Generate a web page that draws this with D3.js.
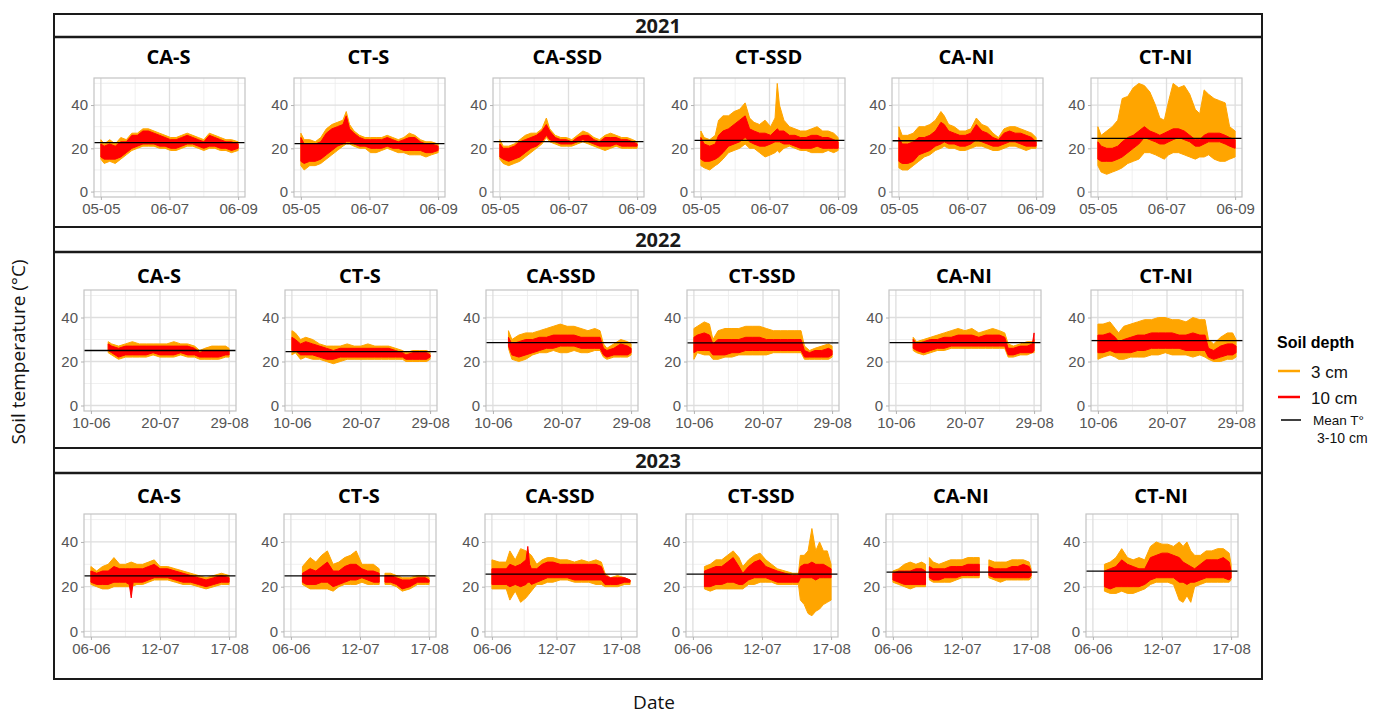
<!DOCTYPE html>
<html>
<head>
<meta charset="utf-8">
<script src="https://cdn.jsdelivr.net/npm/d3@7"></script>
<style>
  body { margin: 0; background: #fff; }
</style>
</head>
<body>
<svg id="chart" width="1394" height="718"></svg>
<script>
// sites (panel order) and years (row order)
const sites = ["CA-S", "CT-S", "CA-SSD", "CT-SSD", "CA-NI", "CT-NI"]
const years = ["2021", "2022", "2023"]

// x ticks, in days from the first date of each year
const tickDays2021 = [0, 62, 124], tickLabels2021 = ["05-05", "06-07", "06-09"]
const tickDays2022 = [0, 40, 80],  tickLabels2022 = ["10-06", "20-07", "29-08"]
const tickDays2023 = [0, 36, 72],  tickLabels2023 = ["06-06", "12-07", "17-08"]

// last day of each panel's date range
const xEnd2021 = [124, 124, 124, 124, 124, 124]
const xEnd2022 = [80, 80, 80, 80, 80, 80]
const xEnd2023 = [72, 72, 77, 72, 72, 72]

// mean temperature 3-10 cm per panel
const mean2021 = [22.6, 22.2, 23.1, 23.7, 23.5, 24.6]
const mean2022 = [25.0, 24.5, 28.6, 28.5, 28.6, 29.5]
const mean2023 = [24.8, 24.8, 25.6, 25.6, 26.5, 27.0]

// soil temperature envelopes: [day, low, high] (null = gap)
const cm3_2021 = [
  [[0,15,24],[3,13,22],[8,14,24],[13,13,22],[18,15,25],[23,17,24],[28,19,27],[33,20,27],[38,21,29],[43,21,29],[48,21,28],[53,20,27],[58,20,26],[63,19,25],[68,19,25],[73,20,26],[78,21,27],[83,21,26],[88,20,25],[93,19,24],[98,20,27],[103,20,26],[108,19,25],[113,19,24],[118,18,24],[124,19,23]],
  [[0,12,27],[3,10,24],[8,12,24],[13,12,23],[18,13,25],[23,15,29],[28,17,31],[33,19,32],[38,21,33],[41,22,37],[44,22,31],[48,21,28],[53,20,26],[58,20,25],[63,18,25],[68,18,25],[73,19,25],[78,20,26],[83,19,25],[88,18,24],[93,18,25],[98,17,27],[103,17,26],[108,17,24],[113,16,23],[118,17,23],[124,18,22]],
  [[0,15,24],[3,13,21],[8,12,21],[13,13,22],[18,14,24],[23,16,26],[28,18,27],[33,20,27],[38,22,29],[42,25,34],[45,23,29],[50,22,26],[55,21,25],[60,21,25],[65,21,24],[70,22,26],[75,23,28],[80,22,27],[85,21,25],[90,20,24],[95,19,26],[100,20,27],[105,21,26],[110,20,25],[115,20,25],[120,20,24],[124,20,23]],
  [[0,12,28],[3,11,25],[8,10,24],[13,12,26],[16,13,33],[20,15,35],[25,18,35],[30,19,37],[35,20,38],[40,22,41],[44,20,34],[48,20,32],[53,18,31],[58,16,33],[63,17,30],[67,18,34],[69,19,50],[71,18,40],[75,20,33],[80,21,30],[85,20,29],[90,19,28],[95,19,28],[100,18,29],[105,18,30],[110,18,28],[115,19,28],[120,18,27],[124,19,25]],
  [[0,11,30],[3,10,26],[8,10,26],[13,12,27],[18,14,30],[23,16,30],[28,17,31],[33,19,33],[38,20,37],[41,21,35],[45,20,31],[50,20,30],[55,19,28],[60,19,28],[65,20,29],[70,21,34],[75,21,31],[80,20,30],[85,19,27],[90,19,25],[95,20,29],[100,21,30],[105,21,30],[110,20,29],[115,19,28],[120,20,27],[124,20,25]],
  [[0,12,30],[3,9,26],[8,8,28],[13,9,30],[18,10,33],[22,11,43],[27,13,44],[32,14,48],[37,15,50],[42,18,49],[47,18,46],[52,17,40],[56,16,34],[60,15,33],[64,17,42],[68,18,50],[73,18,48],[78,17,49],[83,16,45],[88,15,38],[92,16,36],[96,16,47],[100,17,45],[105,15,43],[110,14,42],[115,14,41],[119,15,30],[124,16,28]]
]
const cm10_2021 = [
  [[0,16,22],[3,15,21],[8,15,22],[13,15,21],[18,16,23],[23,18,23],[28,20,26],[33,21,26],[38,22,28],[43,22,28],[48,22,27],[53,21,26],[58,21,25],[63,20,24],[68,20,24],[73,21,25],[78,22,26],[83,22,25],[88,21,24],[93,20,23],[98,21,26],[103,21,25],[108,20,24],[113,20,23],[118,19,23],[124,20,22]],
  [[0,14,25],[3,13,22],[8,14,22],[13,14,22],[18,15,23],[23,17,27],[28,19,29],[33,21,30],[38,22,31],[41,23,35],[44,23,29],[48,22,27],[53,21,25],[58,21,24],[63,20,24],[68,20,24],[73,20,24],[78,21,25],[83,20,24],[88,20,23],[93,19,24],[98,19,25],[103,19,25],[108,19,23],[113,18,22],[118,18,22],[124,19,21]],
  [[0,16,22],[3,15,20],[8,14,20],[13,15,21],[18,16,23],[23,18,24],[28,20,25],[33,21,26],[38,23,28],[42,26,31],[45,24,28],[50,23,25],[55,22,24],[60,22,24],[65,22,23],[70,23,25],[75,24,26],[80,23,26],[85,22,24],[90,21,23],[95,21,25],[100,21,25],[105,22,25],[110,21,24],[115,21,24],[120,21,23],[124,21,22]],
  [[0,15,25],[3,14,22],[8,14,21],[13,15,22],[16,16,26],[20,18,28],[25,21,29],[30,22,31],[35,23,33],[40,25,35],[44,23,29],[48,22,28],[53,21,27],[58,21,27],[63,22,26],[67,23,28],[69,23,29],[71,23,28],[75,22,28],[80,22,26],[85,21,26],[90,20,25],[95,20,25],[100,20,26],[105,21,26],[110,20,25],[115,20,25],[120,20,24],[124,20,23]],
  [[0,14,25],[3,13,22],[8,13,22],[13,14,23],[18,17,25],[23,18,25],[28,19,26],[33,21,28],[38,22,32],[41,23,31],[45,22,28],[50,22,27],[55,21,26],[60,21,26],[65,22,27],[70,24,31],[75,23,28],[80,22,27],[85,21,25],[90,21,24],[95,22,27],[100,23,28],[105,23,27],[110,22,27],[115,21,26],[120,21,25],[124,21,23]],
  [[0,15,23],[3,14,21],[8,14,20],[13,14,20],[18,15,21],[22,16,23],[27,18,25],[32,20,26],[37,22,28],[42,25,30],[47,24,28],[52,23,27],[56,22,26],[60,22,27],[64,23,28],[68,24,29],[73,25,29],[78,24,28],[83,23,26],[88,21,24],[92,21,24],[96,22,26],[100,23,27],[105,23,27],[110,23,27],[115,22,26],[119,21,25],[124,20,24]]
]

const cm3_2022 = [
  [[10,24,29],[12,23,28],[16,21,27],[20,22,28],[24,22,29],[28,22,28],[32,22,28],[36,23,28],[40,22,28],[44,22,28],[48,22,29],[52,23,28],[56,22,28],[60,22,27],[63,21,25],[66,21,26],[70,21,27],[74,21,27],[78,22,27],[80,22,26]],
  [[0,23,34],[2,24,33],[5,21,30],[8,22,31],[12,21,30],[16,21,28],[20,20,27],[24,19,27],[28,20,27],[32,21,28],[36,21,27],[40,21,27],[44,21,28],[48,21,27],[52,21,27],[56,21,27],[60,21,26],[64,21,25],[66,20,24],[70,20,25],[74,20,25],[78,20,25],[80,21,24]],
  [[9,26,34],[11,21,30],[15,20,32],[19,21,33],[23,23,33],[27,24,34],[31,24,35],[35,25,36],[39,24,37],[43,24,36],[47,25,36],[51,24,35],[55,24,34],[59,25,35],[62,25,34],[64,22,28],[66,21,26],[70,22,28],[74,22,30],[78,22,29],[80,23,28]],
  [[0,21,35],[2,24,36],[6,23,38],[9,23,37],[11,21,30],[14,21,34],[18,22,35],[22,22,35],[26,23,35],[30,23,36],[34,23,36],[38,23,36],[42,23,35],[46,24,34],[50,24,34],[54,24,34],[58,24,34],[62,24,34],[64,21,27],[67,21,25],[70,21,26],[74,21,27],[78,21,28],[80,22,27]],
  [[10,25,31],[12,24,29],[16,23,30],[20,24,31],[24,25,32],[28,25,33],[32,26,34],[36,26,35],[40,26,34],[44,26,35],[48,26,33],[52,26,34],[56,26,35],[60,26,34],[63,26,33],[65,22,28],[68,22,27],[72,23,28],[76,23,29],[79,24,29],[80,24,30]],
  [[0,21,37],[3,22,37],[7,23,38],[10,22,35],[12,21,33],[15,21,36],[19,22,37],[23,22,38],[27,22,39],[31,23,39],[35,23,40],[39,24,40],[43,23,39],[47,23,39],[51,23,38],[55,22,40],[59,23,39],[62,22,39],[64,21,30],[67,20,28],[71,20,31],[75,21,33],[78,21,33],[80,22,30]]
]
const cm10_2022 = [
  [[10,25,28],[12,24,27],[16,22,26],[20,23,27],[24,23,27],[28,23,27],[32,23,27],[36,24,27],[40,23,27],[44,23,27],[48,23,27],[52,24,27],[56,23,27],[60,23,26],[63,22,24],[66,22,25],[70,22,25],[74,22,25],[78,23,25],[80,23,25]],
  [[0,25,31],[2,25,30],[5,23,28],[8,23,29],[12,23,28],[16,22,27],[20,21,26],[24,21,25],[28,22,26],[32,22,26],[36,22,26],[40,22,26],[44,22,26],[48,22,26],[52,22,26],[56,22,26],[60,22,25],[64,22,24],[66,21,23],[70,21,24],[74,21,24],[78,21,24],[80,22,23]],
  [[9,27,31],[11,23,28],[15,22,29],[19,23,30],[23,24,30],[27,25,31],[31,26,31],[35,26,32],[39,27,32],[43,27,32],[47,27,32],[51,26,31],[55,26,31],[59,26,31],[62,26,31],[64,23,26],[66,22,25],[70,23,26],[74,23,28],[78,23,27],[80,24,26]],
  [[0,24,31],[2,25,32],[6,25,33],[9,25,32],[11,23,28],[14,23,30],[18,23,30],[22,24,30],[26,24,30],[30,25,31],[34,25,31],[38,25,31],[42,25,30],[46,25,30],[50,25,30],[54,25,30],[58,25,30],[62,25,30],[64,22,25],[67,22,24],[70,22,25],[74,22,25],[78,22,26],[80,23,25]],
  [[10,26,30],[12,25,28],[16,24,29],[20,25,30],[24,26,30],[28,26,31],[32,27,31],[36,27,32],[40,27,32],[44,27,32],[48,27,31],[52,27,32],[56,27,32],[60,27,32],[63,27,31],[65,23,26],[68,23,26],[72,24,27],[76,24,27],[79,24,28],[80,25,33]],
  [[0,24,32],[3,24,32],[7,25,33],[10,24,31],[12,24,29],[15,24,30],[19,24,31],[23,25,32],[27,25,32],[31,26,33],[35,26,33],[39,26,33],[43,26,33],[47,26,32],[51,25,32],[55,25,33],[59,25,32],[62,25,32],[64,22,26],[67,21,25],[71,22,27],[75,23,28],[78,23,28],[80,24,27]]
]

const cm3_2023 = [
  [[0,21,29],[3,20,27],[6,19,29],[9,19,30],[12,20,33],[15,20,30],[18,20,30],[21,20,31],[24,21,30],[27,21,30],[30,22,31],[33,23,32],[36,23,29],[40,23,29],[44,22,28],[48,21,27],[52,21,26],[56,20,25],[60,19,24],[64,20,25],[68,21,26],[72,21,25]],
  [[6,21,29],[8,20,31],[10,19,33],[13,19,31],[16,19,34],[19,19,36],[22,18,30],[25,20,31],[28,21,33],[31,21,34],[34,21,36],[37,22,30],[40,21,30],[43,21,30],[46,21,28],[47,null,null],[49,21,26],[52,21,26],[55,20,25],[58,18,24],[62,19,24],[66,21,25],[70,21,25],[72,21,24]],
  [[0,19,32],[4,19,31],[8,19,31],[10,14,36],[13,18,32],[16,13,37],[19,15,36],[22,18,34],[25,21,30],[28,21,32],[31,22,33],[34,22,33],[38,23,32],[42,23,32],[46,22,31],[50,22,32],[54,22,31],[58,21,32],[61,21,31],[63,20,26],[66,20,24],[70,20,25],[74,21,24],[77,21,23]],
  [[6,19,29],[9,18,30],[12,19,32],[15,19,32],[18,19,34],[21,19,36],[24,19,33],[26,19,29],[29,21,32],[32,21,34],[35,22,35],[38,22,32],[41,22,30],[44,21,28],[48,21,27],[52,21,26],[55,21,26],[56,14,34],[58,12,34],[60,8,36],[62,7,46],[64,9,36],[66,10,40],[68,12,36],[70,13,36],[72,14,30]],
  [[0,22,27],[3,21,28],[6,20,30],[9,19,31],[12,20,30],[15,20,31],[17,20,30],[18,null,null],[19,23,33],[21,22,31],[24,22,30],[27,22,31],[30,22,32],[33,23,32],[36,24,32],[39,24,33],[42,24,33],[45,24,33],[47,null,null],[50,24,32],[53,23,31],[56,22,31],[59,23,31],[62,23,32],[65,23,32],[68,23,32],[71,23,31],[72,24,28]],
  [[6,18,30],[9,17,31],[12,17,33],[15,18,37],[18,17,33],[21,17,32],[24,18,33],[27,19,32],[30,21,38],[33,22,40],[36,22,39],[39,22,39],[42,21,38],[45,14,40],[47,13,38],[49,16,40],[51,13,36],[53,20,34],[56,21,34],[59,22,36],[62,22,36],[65,22,37],[68,22,37],[71,22,35],[72,23,30]]
]
const cm10_2023 = [
  [[0,22,27],[3,21,26],[6,21,27],[9,21,27],[12,22,29],[15,22,28],[18,22,28],[20,21,28],[21,15,28],[22,22,28],[24,22,28],[27,22,28],[30,23,29],[33,24,30],[36,24,28],[40,24,28],[44,23,27],[48,22,26],[52,22,25],[56,21,24],[60,20,23],[64,21,24],[68,22,25],[72,22,24]],
  [[6,22,26],[8,21,27],[10,21,28],[13,21,27],[16,22,29],[19,22,31],[22,20,27],[25,21,27],[28,22,29],[31,23,30],[34,23,30],[37,24,28],[40,23,27],[43,22,27],[46,22,26],[47,null,null],[49,22,25],[52,22,25],[55,21,24],[58,19,23],[62,20,23],[66,22,24],[70,22,24],[72,22,23]],
  [[0,21,28],[4,21,28],[8,21,28],[10,20,30],[13,21,29],[16,20,30],[19,21,32],[20,22,38],[21,22,30],[22,21,28],[25,22,28],[28,23,30],[31,24,31],[34,24,31],[38,24,30],[42,24,30],[46,23,30],[50,23,30],[54,23,30],[58,23,30],[61,23,29],[63,21,25],[66,21,24],[70,21,24],[74,22,24],[77,22,23]],
  [[6,20,27],[9,20,28],[12,21,29],[15,21,29],[18,22,31],[21,22,33],[24,21,29],[26,21,26],[29,23,29],[32,24,31],[35,24,32],[38,24,29],[41,23,28],[44,22,27],[48,22,26],[52,22,25],[55,22,25],[56,24,29],[58,24,30],[60,24,30],[62,24,31],[64,23,30],[66,24,30],[68,24,30],[70,24,29],[72,24,28]],
  [[0,23,26],[3,22,27],[6,21,27],[9,21,27],[12,21,28],[15,21,28],[17,21,27],[18,null,null],[19,24,29],[21,23,28],[24,23,28],[27,24,28],[30,24,29],[33,24,29],[36,25,29],[39,25,30],[42,25,30],[45,25,30],[47,null,null],[50,25,29],[53,24,28],[56,24,28],[59,24,28],[62,24,29],[65,24,29],[68,24,30],[71,24,29],[72,25,27]],
  [[6,20,27],[9,19,28],[12,20,29],[15,20,32],[18,20,30],[21,20,29],[24,20,28],[27,21,28],[30,23,33],[33,24,34],[36,24,35],[39,24,35],[42,24,34],[45,22,33],[47,22,31],[49,21,30],[51,22,29],[53,22,28],[56,23,30],[59,24,32],[62,24,32],[65,24,32],[68,24,33],[71,23,31],[72,24,27]]
]

const legendLabels = ["3 cm", "10 cm"]
const colors = { "3 cm": "#FFA500", "10 cm": "#FF0000" }

//
// Layout
//

const svg = d3.select("#chart")
const tickFont = "'Liberation Sans', Arial, sans-serif"
const titleFont = "'Open Sans', 'Noto Sans', sans-serif"

const rows = [
  { top: 14,  stripBottom: 37,  bottom: 227, titleY: 64,  plotTop: 78,  plotBottom: 197, lefts: [94, 294, 493, 694, 892, 1091], width: 151,
    ticks: tickDays2021, labels: tickLabels2021, ends: xEnd2021, means: mean2021, cm3: cm3_2021, cm10: cm10_2021 },
  { top: 227, stripBottom: 252, bottom: 448, titleY: 283, plotTop: 290, plotBottom: 411, lefts: [84, 285, 486, 687, 889, 1091], width: 152,
    ticks: tickDays2022, labels: tickLabels2022, ends: xEnd2022, means: mean2022, cm3: cm3_2022, cm10: cm10_2022 },
  { top: 448, stripBottom: 473, bottom: 679, titleY: 503, plotTop: 514, plotBottom: 637, lefts: [84, 284, 485, 686, 886, 1086], width: 152,
    ticks: tickDays2023, labels: tickLabels2023, ends: xEnd2023, means: mean2023, cm3: cm3_2023, cm10: cm10_2023 }
]

const frameLeft = 54, frameRight = 1262

rows.forEach(function(row, r) {
  // row box and strip
  svg.append("rect")
      .attr("x", frameLeft).attr("y", row.top)
      .attr("width", frameRight - frameLeft).attr("height", row.bottom - row.top)
      .attr("fill", "none").attr("stroke", "#1a1a1a").attr("stroke-width", 2)
  svg.append("line")
      .attr("x1", frameLeft).attr("x2", frameRight)
      .attr("y1", row.stripBottom).attr("y2", row.stripBottom)
      .attr("stroke", "#1a1a1a").attr("stroke-width", 2.5)
  svg.append("text")
      .attr("x", 658).attr("y", (row.top + row.stripBottom) / 2 + 7)
      .attr("text-anchor", "middle")
      .attr("font-family", titleFont).attr("font-weight", 700).attr("font-size", 20)
      .attr("fill", "#1a1a1a")
      .text(years[r])

  sites.forEach(function(site, i) {
    drawPanel(row, i, site)
  })
})

function drawPanel(row, i, site) {
  const w = row.width, h = row.plotBottom - row.plotTop
  const end = row.ends[i]
  const x = d3.scaleLinear().domain([-0.05 * end, 1.05 * end]).range([0, w])
  const y = d3.scaleLinear().domain([-2.5, 52.5]).range([h, 0])

  const g = svg.append("g")
      .attr("transform", "translate(" + row.lefts[i] + "," + row.plotTop + ")")

  // title
  g.append("text")
      .attr("x", w / 2 - 1).attr("y", row.titleY - row.plotTop)
      .attr("text-anchor", "middle")
      .attr("font-family", titleFont).attr("font-weight", 700).attr("font-size", 20)
      .attr("fill", "#000")
      .text(site)

  // grid
  const t = row.ticks
  const minorX = [(t[0] + t[1]) / 2, (t[1] + t[2]) / 2]
  g.selectAll(".gminx").data(minorX).enter().append("line")
      .attr("x1", d => x(d)).attr("x2", d => x(d)).attr("y1", 0).attr("y2", h)
      .attr("stroke", "#ececec").attr("stroke-width", 0.8)
  g.selectAll(".gminy").data([10, 30, 50]).enter().append("line")
      .attr("x1", 0).attr("x2", w).attr("y1", d => y(d)).attr("y2", d => y(d))
      .attr("stroke", "#ececec").attr("stroke-width", 0.8)
  g.selectAll(".gmajx").data(t).enter().append("line")
      .attr("x1", d => x(d)).attr("x2", d => x(d)).attr("y1", 0).attr("y2", h)
      .attr("stroke", "#dedede").attr("stroke-width", 1.3)
  g.selectAll(".gmajy").data([0, 20, 40]).enter().append("line")
      .attr("x1", 0).attr("x2", w).attr("y1", d => y(d)).attr("y2", d => y(d))
      .attr("stroke", "#dedede").attr("stroke-width", 1.3)

  // temperature bands
  const area = d3.area()
      .defined(d => d[1] != null)
      .x(d => x(d[0]))
      .y0(d => y(d[1]))
      .y1(d => y(d[2]))

  const series = [
    { key: "3 cm",  values: row.cm3[i] },
    { key: "10 cm", values: row.cm10[i] }
  ]
  g.selectAll(".band").data(series).enter().append("path")
      .attr("d", d => area(d.values))
      .attr("fill", d => colors[d.key])
      .attr("stroke", d => colors[d.key])
      .attr("stroke-width", 1)
      .attr("stroke-linejoin", "round")

  // mean line
  g.append("line")
      .attr("x1", 0).attr("x2", w)
      .attr("y1", y(row.means[i])).attr("y2", y(row.means[i]))
      .attr("stroke", "#000").attr("stroke-width", 1.3)

  // panel border
  g.append("rect")
      .attr("width", w).attr("height", h)
      .attr("fill", "none").attr("stroke", "#c4c4c4").attr("stroke-width", 1.2)

  // axes
  const yAxis = g.append("g")
      .call(d3.axisLeft(y).tickValues([0, 20, 40]).tickSize(3).tickPadding(3))
  const xAxis = g.append("g")
      .attr("transform", "translate(0," + h + ")")
      .call(d3.axisBottom(x).tickValues(t).tickSize(3).tickPadding(3)
        .tickFormat((d, k) => row.labels[k]))

  ;[yAxis, xAxis].forEach(function(a) {
    a.select(".domain").remove()
    a.selectAll("line").attr("stroke", "#b3b3b3")
    a.selectAll("text")
        .attr("font-family", tickFont).attr("font-size", 15).attr("fill", "#555")
  })
}

//
// Axis titles
//

svg.append("text")
    .attr("transform", "translate(25,352) rotate(-90)")
    .attr("text-anchor", "middle")
    .attr("font-family", titleFont).attr("font-size", 19)
    .attr("fill", "#111")
    .text("Soil temperature (°C)")

svg.append("text")
    .attr("x", 654).attr("y", 709)
    .attr("text-anchor", "middle")
    .attr("font-family", titleFont).attr("font-size", 19)
    .attr("fill", "#111")
    .text("Date")

//
// Legend
//

const legend = svg.append("g").attr("transform", "translate(1277,0)")

legend.append("text")
    .attr("x", 0).attr("y", 348)
    .attr("font-family", tickFont).attr("font-weight", 700).attr("font-size", 16)
    .attr("fill", "#000")
    .text("Soil depth")

legend.selectAll(".key").data(legendLabels).enter().append("line")
    .attr("x1", 1).attr("x2", 23)
    .attr("y1", (d, k) => 371 + k * 26).attr("y2", (d, k) => 371 + k * 26)
    .attr("stroke", d => colors[d]).attr("stroke-width", 2.5)

legend.selectAll(".lab").data(legendLabels).enter().append("text")
    .attr("x", 34).attr("y", (d, k) => 378 + k * 26)
    .attr("font-family", tickFont).attr("font-size", 17)
    .attr("fill", "#111")
    .text(d => d)

legend.append("line")
    .attr("x1", 4).attr("x2", 24).attr("y1", 420).attr("y2", 420)
    .attr("stroke", "#000").attr("stroke-width", 1.5)
legend.append("text")
    .attr("x", 36).attr("y", 425)
    .attr("font-family", tickFont).attr("font-size", 13.5)
    .attr("fill", "#111")
    .text("Mean T°")
legend.append("text")
    .attr("x", 40).attr("y", 443)
    .attr("font-family", tickFont).attr("font-size", 14)
    .attr("fill", "#111")
    .text("3-10 cm")
</script>
</body>
</html>
